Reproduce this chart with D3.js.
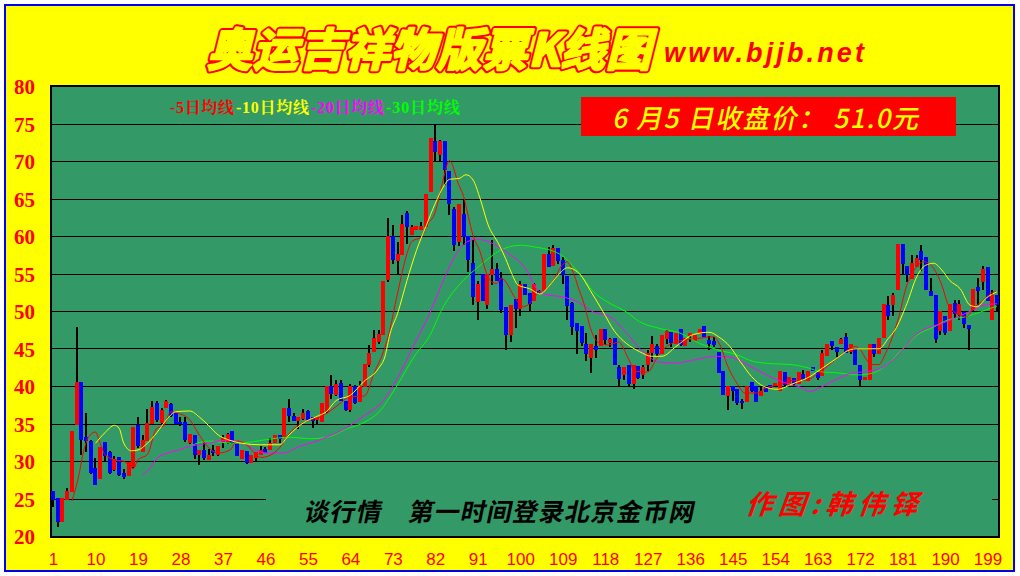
<!DOCTYPE html>
<html><head><meta charset="utf-8">
<script src="https://cdn.jsdelivr.net/npm/d3@7/dist/d3.min.js"></script>
<style>html,body{margin:0;padding:0;background:#fff}svg{display:block}</style>
</head><body><svg id="c" width="1020" height="576"></svg>
<script>
const open=[26.2,25.2,22,25,26,35,40.7,33.4,32.8,29.2,
27.8,32.7,31.3,29,30.7,28.5,28.2,29.4,35,31.4,
32.8,35.1,37.9,35.2,37.2,37.8,36.6,35.4,35.4,32.5,
33.6,31,31.6,30.3,31.6,31,32.5,32.5,34.2,32.7,
30.4,31.5,29.9,30.6,30.9,31.8,31.6,32.5,33.6,33.2,
37.2,36.2,35.5,35.7,36.8,36,35.6,35.4,36.7,40.1,
38.9,40.5,38.2,37,40.1,38,40,42.9,44.7,46,
46.9,54.3,60.2,56.8,57.6,63.2,60.3,60.9,61,61.4,
66,72.8,70.9,72.8,68.8,63.7,59.4,63.1,60.2,56.6,
51.4,55.1,50.9,54.9,55.7,54.6,50.7,47,51.7,50.4,
53.8,52.5,51.5,52.8,52.9,57.8,56.1,58.6,57,54.8,
51.2,48.5,48.2,45.8,43.9,45.5,45.5,47.8,45.9,46.6,
42.7,41.6,43,40.4,42.8,41.6,43,44.5,45.5,44.4,
46.4,47.4,45.8,47.8,45.5,46.8,46.2,47.1,48.2,46.3,
46.2,44.7,42.2,38.8,40.2,39.8,38.2,38,40.7,40.2,
38.8,40,40.3,40.2,39.5,42,40.3,41.2,40.4,41.8,
40.8,42.7,42,41.5,44.1,46.1,45.3,45.8,46.7,44.7,
45.1,43,41,41,45.8,44.4,46.5,51,50.9,52.9,
59.1,56.2,54.4,56,58.2,57.4,52.8,52.3,47.5,49.5,
47.5,51.2,49.6,50,48.3,50.3,53.3,54,56,49,52.3];
const close=[25,22,25.2,26.2,34.2,40.7,33,32.8,28.5,27,
32,30.8,28.5,30.4,28.3,28,30,34.7,32.2,33,
35.2,37.4,35.6,37,38.1,36.1,35.1,35.1,33,33.8,
31,31.6,30.5,30.9,31.2,32.2,33.2,33.8,32.5,30.8,
31.6,29.9,30.9,31.3,31.6,31.2,32.5,33.6,33.1,37.2,
36.2,35.5,36,36.5,35.6,35.5,36,37.9,40.1,39.1,
40.4,38.2,36.9,40.1,37.9,40.1,43.1,44.6,46.6,47.1,
54.2,60.2,56.9,57.7,61.7,61.4,61.3,61.5,61.5,65.7,
73.2,71.4,72.8,68.9,64.4,58.9,64.4,60,56.9,52,
53.7,51.5,55.1,55.7,54.2,50.3,46.9,51,50.4,53.8,
52.3,51.1,53.7,52.6,57.7,56,58.6,56.8,54.9,50.8,
48,47.5,45.9,44.4,45.8,45,47.8,46.3,46.4,43,
41.1,42.7,40.4,42.9,41.2,42.7,44.5,45.8,44.4,47,
47.5,45.9,47.2,45.6,46.6,47.2,47,47.8,46.7,45.7,
45.6,41.9,39,40.2,39.5,37.9,38,40.2,39.5,38,
39.5,39.3,39.9,40.5,42.2,40.3,41.3,40.4,42,41.1,
42.2,42.2,41.2,44.5,45.7,45.5,44.7,46.4,44.5,45.8,
43,41,41.3,45.8,44.4,46.6,51.1,49.5,52.3,59.1,
56.4,54.9,56.6,57.2,56.9,52.9,52.2,46.4,50.1,47.2,
51.1,49.8,51.1,48.4,47.7,53.1,52.8,55.7,51.5,52.3,51];
const high=[26.2,25.2,25.2,26.5,34.2,48,40.7,36.5,33,30.5,
32,32.7,31.5,30.8,30.7,29.1,30,34.7,36,33.6,
37.1,38.1,38.1,37.2,38.3,37.9,36.6,36,35.95,33.8,
33.6,31.6,32.5,31.8,32.3,32.2,33.6,33.9,34.2,32.7,
31.6,31.5,30.9,31.3,32.2,32,33.2,33.6,33.6,37.2,
38.4,36.5,36,37.1,36.9,36,36,37.9,40.1,41.6,
41,41,38.2,40.4,40.3,40.8,43.1,45.6,47.6,47.6,
54.2,62.5,61.6,59.4,63,63.5,61.6,61.5,62,65.7,
73.2,75,72.9,72.8,68.8,64,64.4,65,60.2,59.6,
54.1,55.1,55.1,59.6,56.5,55.3,50.7,51,51.7,54.1,
53.8,52.5,53.9,53,57.7,58.7,58.9,58.6,57.3,54.8,
51.4,48.5,48.2,47.2,45.8,47,47.8,47.8,46.5,46.6,
43,42.7,43,42.9,42.8,43,44.9,46.8,45.7,47,
47.6,47.4,47.2,47.8,46.6,47.2,47,47.8,48.2,46.8,
46.7,44.7,42.2,40.2,40.2,39.8,38.4,40.2,40.7,40.2,
40,40,40.3,40.6,42.2,42,41.4,41.2,42,42.3,
42.2,42.7,42,45,45.7,46.1,45.3,46.6,47.2,45.8,
45.1,43,41.3,45.8,45.8,46.6,51.1,52.1,52.5,59.1,
59.1,56.2,57.6,57.6,59,57.4,54.5,52.3,50.1,49.5,
51.1,51.6,51.6,50,48.3,53.1,54.5,56.1,56,53,52.3];
const low=[24,21.4,22,25,26,35,31,31.4,28.4,27,
27.8,30,28.4,28.8,28.2,27.8,28.2,29.2,31.9,31.4,
32.8,35.1,35.4,35,37.2,36,35.1,34.8,32.7,32.4,
30.4,29.6,30.3,30.3,30.8,30.8,31.9,32.4,32.4,30.8,
30.4,29.7,29.9,30.2,30.9,31.2,31.6,32.5,32.5,33.2,
35.4,35.5,34.4,35.6,35.5,34.6,34.9,35.4,36.6,38.4,
38.8,38.2,36.8,36.7,37.8,38,40,42.7,44.7,45.7,
46.9,54,56.4,55,57.6,59.1,60.3,60.9,61,61.4,
66,70,70.2,67,62.9,58.2,58.8,58.9,55.4,50.9,
48.9,51.5,50.4,53.6,54.2,49.9,45,46,47.9,49.5,
52.3,50,51.5,52.4,52.9,56,56.1,56.4,53.7,49,
47,44.4,45.5,43.5,41.9,43.9,45.5,45.6,45.4,43,
40,41,40,39.8,41.1,41.1,42.1,43.4,44.1,44.4,
45.8,45.4,45.8,45.5,45.5,46,46.2,47.1,46.7,45,
45.4,41.9,39,37,38.2,37.6,37.1,38,39.3,38,
38.8,39.3,39.9,40,39.5,40,40.1,40,40.4,41,
40.8,42.2,41,41.5,44.1,45,44,45.8,44.5,44.4,
43,40,41,41,44,44.4,46.5,48.9,49.5,52.9,
55,54,54.4,56,55.5,52.9,52.2,45.9,47,46.9,
47.5,49.1,49,47.9,45,50,50.9,52.9,51.5,49,50];

const ma5Days=[5,6.4,7.4,8.6,10,11,12,14,16,17,18,19,21,23,24.4,26,27.5,30,32,34,36,38.5,40,42,44,45,47,49,51.2,53,55.5,58,61,64,67,69,71,72,74,76,77,79,80.6,81.6,83,84,85,87,88,89,90,91.5,92.6,94,95,96,99,100.4,102,104,105,107,108.8,110,111,112.5,113.5,115,116.4,118.7,120.8,122.9,124.3,127,128.9,131,134.9,138,140.9,142.3,144,145.9,147.6,150,152.2,155,157.8,160.7,163,165.9,168,171,172,173.4,174.5,176,177.4,180,181.9,183.7,185.5,187.6,189.3,190.7,192.5,194.6,196,197.8,200,201];
const ma5=[24.8,28,31.2,33.4,34,32.5,31,30.3,30.1,29.6,29.1,30.3,31,34.5,34.8,36.7,36.5,35.6,33.6,31.9,31.2,31.6,32.8,32.3,31,30.6,30.9,31.9,33.9,34.9,35.6,36.1,37.4,38.7,38.8,41.8,44.7,46.7,52.5,57.8,59.4,60,62,62.7,65.8,68.5,70.2,66.9,65.4,62.7,60.2,58,55.6,54,53.8,54.5,51.8,50.7,51.1,52.7,52.9,54.2,56.2,56.7,55.6,52.9,51.1,47.6,46,45.6,46,43.8,42.1,42,43.8,45.4,46.3,46.5,46.7,45.6,42.7,40.5,39.2,39.2,39.9,40.3,40.9,40.9,41.8,43.2,44.3,45.4,45,43.6,43,43,44.5,48.9,53.6,55.8,56.7,55.8,53.6,50.9,49.8,49.4,50.5,51.4,52.6,52.7];
const ma10Days=[10,12,14,15,16,17.6,19,21,23,25,27,30,32,33.9,36,38,41,45,49,51,54,57,58.9,61,64,66.8,70,71.3,72.4,74,76,78,80,82,83.9,85,87,88.5,90,91.5,93.2,95.4,96.9,98.2,99.5,102,104.2,106,108,110,112.7,114.8,117.3,120,122.5,125.3,127.8,130,133,136.7,140,142,144.4,146.6,149,151.5,154.4,158,161.4,163.5,167,170,171.4,176,178,179.4,181.9,184,185.8,187.6,189.3,191,193.2,195.3,196.8,198.6,201];
const ma10=[32.5,33.9,34.9,34.5,32.5,31.5,31.6,32.5,33.9,35.6,36.7,36.8,36,34.9,33.6,33,32.5,32.3,32.3,33.6,35.2,36.1,36.7,38.2,38.9,40.7,42.5,44,47.1,49.8,54.2,58.2,61.4,64.5,66.9,67.7,67.8,68.3,67.6,65.1,61.6,59.1,57.1,55.1,53.6,53.1,52.4,53.4,54.9,55.9,55,52.9,50.3,47.4,45.8,44.7,44.1,44.1,45.4,47,47.3,46.7,45.4,43.4,41.4,40.1,39.7,40.5,41.4,42.3,43.8,45,45.1,45.1,46.5,47.6,51.1,54.7,56.2,56.5,55.6,54.2,53.1,50.9,50.7,51.8,52.7];
const ma20Days=[20,21.3,23,24.8,27.6,30,32.9,37.8,41.3,44,46.3,49.8,53.3,56.9,59.3,61.8,67,71,74.5,77.3,80.8,83.7,86.5,88.9,90.7,94.3,97,101.3,103.5,104.9,109,112,115.5,119,122.5,126,129.6,133,136.7,141.6,144.4,148,152.2,156.4,159.3,161.4,163.5,166.3,170.6,174,177,180.4,183.3,186,189,192.5,196,198.1,201];
const ma20=[28.3,29,30.5,31.1,31.6,32.1,32.4,32.9,32.5,31.6,31.2,31.2,32.1,32.8,33.4,34.1,36.2,38.2,41.8,45.4,49.8,54.2,57.8,59.4,59.7,59.1,58,55.6,53.1,52.4,52,51.4,50,49.4,47.2,44.7,43.3,43.2,43.6,44.1,44,43,41.6,40.5,40,39.4,39.9,40.8,41.9,42.1,42.7,44.5,46.7,47.8,48.4,49.3,50.3,50.9,51.1];
const ma30Days=[30,33.9,39.2,43.4,46.3,51.2,55.5,59.7,62.8,67.3,70.1,73.7,78,80.5,83.7,87.6,91.5,95.7,100,102.8,108.4,112.7,115.5,118.3,122.5,125.3,129.6,133.8,138,141.6,145.9,149.4,153.6,157.2,160.7,164,167,171.4,174.9,177.7,181.2,184,187.6,190.4,194.6,197.5,201];
const ma30=[32.1,32.8,32.5,32.7,33,33.3,33.1,33.4,34.3,35.4,36.7,40,44.5,46.5,50.7,54,56.2,58.2,58.9,58.7,57.7,55,52.7,51.4,50,48.7,47.8,47.2,45.8,45,44.3,43.4,43.1,43,42.6,42,41.9,41.6,41.9,43,45.2,46.9,48,48.9,49.4,50,50.8];

const priceTicks=[20,25,30,35,40,45,50,55,60,65,70,75,80];
const dayTicks=[1,10,19,28,37,46,55,64,73,82,91,100,109,118,127,136,145,154,163,172,181,190,199];
const gridPrices=[75,70,65,60,55,50,45,40,35,30,25];
const legend=[["-5日均线","#f00",170,64],["-10日均线","#ff0",236,73],["-20日均线","#f0f",311,73],["-30日均线","#0f0",386,74]];
const maSeries=[[ma30Days,ma30,"#0f0"],[ma20Days,ma20,"#f0f"],[ma5Days,ma5,"#f00"],[ma10Days,ma10,"#ff0"]];

const svg=d3.select("#c");
const y=d3.scaleLinear().domain([20,80]).range([537,87]);
const x=d3.scaleLinear().domain([1,201]).range([53,997]);
const serif="'Liberation Serif','Noto Serif CJK SC','Noto Sans CJK SC',serif", cjk="'Noto Sans CJK SC',sans-serif";

// frame
svg.append("rect").attr("x",5).attr("y",5).attr("width",1009).attr("height",566).attr("fill","#ff0").attr("stroke","#00f").attr("stroke-width",2);
svg.append("rect").attr("x",51).attr("y",86).attr("width",948).attr("height",451).attr("fill","#339966").attr("stroke","#000").attr("stroke-width",2);

// grid
svg.append("g").attr("shape-rendering","crispEdges").selectAll("line").data(gridPrices).join("line")
  .attr("x1",52).attr("x2",998).attr("y1",d=>Math.round(y(d))-.5).attr("y2",d=>Math.round(y(d))-.5).attr("stroke","#000");

// candles
const days=d3.range(open.length);
const c=svg.append("g").attr("shape-rendering","crispEdges");
c.selectAll("line").data(days).join("line")
  .attr("x1",i=>Math.round(x(i+1))).attr("x2",i=>Math.round(x(i+1)))
  .attr("y1",i=>y(high[i])).attr("y2",i=>y(low[i])).attr("stroke","#000").attr("stroke-width",2);
c.selectAll("rect").data(days).join("rect")
  .attr("x",i=>Math.round(x(i+1))-2).attr("width",4)
  .attr("y",i=>y(Math.max(open[i],close[i])))
  .attr("height",i=>Math.max(2,Math.abs(y(open[i])-y(close[i]))))
  .attr("fill",i=>close[i]>=open[i]?"#f00":"#00f");

// moving averages
const ln=d3.line().curve(d3.curveMonotoneX);
svg.append("g").selectAll("path").data(maSeries).join("path")
  .attr("d",s=>ln(s[0].map((d,k)=>[x(d),y(s[1][k])])))
  .attr("fill","none").attr("stroke",s=>s[2]).attr("stroke-width",1).attr("stroke-linejoin","round");

// axes
const ax=svg.append("g").attr("transform","translate(35,0)").call(d3.axisLeft(y).tickValues(priceTicks).tickSize(0).tickPadding(0));
ax.select(".domain").remove();
ax.selectAll("text").attr("fill","#f00").attr("font-family","'Liberation Serif',serif").attr("font-weight","bold").attr("font-size",21);
const bx=svg.append("g").attr("transform","translate(0,553)").call(d3.axisBottom(x).tickValues(dayTicks).tickFormat(d3.format("d")).tickSize(0).tickPadding(0));
bx.select(".domain").remove();
bx.selectAll("text").attr("fill","#f00").attr("font-family","'Liberation Sans Narrow','Liberation Sans',sans-serif").attr("font-size",17);

// legend
svg.append("g").selectAll("text").data(legend).join("text").text(d=>d[0])
  .attr("x",d=>d[2]).attr("y",113).attr("textLength",d=>d[3]).attr("fill",d=>d[1])
  .attr("font-family",serif).attr("font-weight","bold").attr("font-size",16);

// title: yellow glyphs with a red outline offset around them
const title="奥运吉祥物版票K线图";
const t=svg.append("g").attr("transform","translate(207,66) skewX(-14)").attr("font-family",cjk).attr("font-weight","700").attr("font-size",45).attr("stroke-linejoin","round");
t.append("text").text(title).attr("textLength",444).attr("fill","#f00").attr("stroke","#f00").attr("stroke-width",6.5);
t.append("text").text(title).attr("textLength",444).attr("fill","#ff0").attr("stroke","#ff0").attr("stroke-width",2.4);
svg.append("text").text("www.bjjb.net").attr("x",664).attr("y",62).attr("textLength",200)
  .attr("font-family","'Liberation Sans',sans-serif").attr("font-weight","bold").attr("font-style","italic").attr("font-size",27).attr("fill","#f00");

// close box
svg.append("rect").attr("x",581).attr("y",97).attr("width",375).attr("height",39).attr("fill","#f00");
svg.append("text").text("6 月5 日收盘价： 51.0元").attr("transform","translate(612,128) skewX(-12)")
  .attr("font-family",cjk).attr("font-weight","500").attr("font-size",26).attr("textLength",306).attr("fill","#ff0");

// footer patch and notes
svg.append("rect").attr("x",266).attr("y",488).attr("width",726).attr("height",40).attr("fill","#339966");
svg.append("text").text("谈行情　第一时间登录北京金币网").attr("transform","translate(303,521) skewX(-12)")
  .attr("font-family",cjk).attr("font-weight","700").attr("font-size",25).attr("textLength",390).attr("fill","#000");
svg.append("text").text("作图:韩伟铎").attr("transform","translate(745,514) skewX(-20)")
  .attr("font-family",cjk).attr("font-weight","bold").attr("font-size",27).attr("textLength",172).attr("fill","#f00");
</script></body></html>
